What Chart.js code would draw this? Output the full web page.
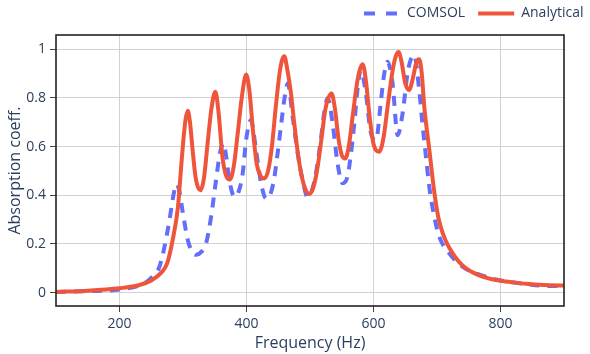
<!DOCTYPE html>
<html>
<head>
<meta charset="utf-8">
<script src="https://cdn.jsdelivr.net/npm/chart.js@4/dist/chart.umd.min.js"></script>
<style>
  html, body { margin: 0; padding: 0; background: #fff; }
  #wrap { width: 590px; height: 354px; }
</style>
</head>
<body>
<div id="wrap"><canvas id="absChart" width="590" height="354"></canvas></div>
<script>
// Series values
const comsolFreq = [100, 150, 200, 240, 255, 263, 271, 278.7, 285, 289.5, 294, 299.6, 307.5, 314, 320.7, 328, 336.4, 344.3, 352, 358, 363.6, 368, 373, 381, 387, 394, 399.4, 407, 415, 423, 430.7, 437, 443, 449, 455, 460, 465, 472.7, 480.6, 488.4, 496, 503, 510, 517, 523, 527.8, 535.6, 543.4, 551.4, 559, 564, 569.8, 575, 580, 588, 596, 604, 611.8, 617, 622, 630, 638, 645.8, 653.6, 659, 664, 672, 677, 682.6, 687.8, 695.7, 703.5, 719, 740, 771.7, 800, 840, 877, 900];
const comsolAbs = [0.002, 0.006, 0.013, 0.04, 0.075, 0.107, 0.19, 0.298, 0.4, 0.445, 0.42, 0.33, 0.216, 0.17, 0.155, 0.165, 0.203, 0.312, 0.462, 0.57, 0.613, 0.56, 0.462, 0.394, 0.41, 0.49, 0.627, 0.709, 0.585, 0.449, 0.387, 0.4, 0.46, 0.572, 0.7, 0.8, 0.859, 0.722, 0.572, 0.462, 0.394, 0.42, 0.5, 0.627, 0.75, 0.798, 0.695, 0.531, 0.449, 0.476, 0.56, 0.695, 0.84, 0.914, 0.818, 0.654, 0.627, 0.79, 0.9, 0.948, 0.859, 0.647, 0.736, 0.9, 0.96, 0.975, 0.832, 0.695, 0.558, 0.435, 0.312, 0.23, 0.162, 0.107, 0.07, 0.05, 0.035, 0.027, 0.027];

const analyticalFreq = [100, 150, 200, 230, 250, 265, 275, 284, 292, 296, 300, 304, 307.5, 311, 315, 320, 327.5, 333, 339, 345, 351, 356, 362, 368, 374, 380, 386, 393, 399.5, 405, 410, 416, 422, 428, 434, 440, 446, 452, 456, 459.6, 464, 470, 475, 481, 486, 492, 499, 505, 511, 518, 524, 529, 534, 539, 545, 550, 555.6, 561, 567, 574, 579, 583, 588, 594, 600, 609, 616, 623, 630, 635, 639.5, 644, 650, 656, 662, 667, 672, 676, 680, 688, 696, 702, 709, 716, 724.5, 735, 745.6, 757, 771.7, 785, 800, 820, 840, 860, 877, 900];
const analyticalAbs = [0.003, 0.008, 0.018, 0.03, 0.05, 0.08, 0.12, 0.22, 0.35, 0.48, 0.61, 0.71, 0.747, 0.7, 0.59, 0.47, 0.42, 0.47, 0.62, 0.76, 0.825, 0.74, 0.56, 0.48, 0.465, 0.52, 0.65, 0.81, 0.896, 0.82, 0.67, 0.53, 0.48, 0.469, 0.5, 0.6, 0.76, 0.9, 0.955, 0.971, 0.92, 0.82, 0.7, 0.57, 0.49, 0.43, 0.405, 0.43, 0.5, 0.63, 0.75, 0.8, 0.818, 0.76, 0.63, 0.565, 0.551, 0.6, 0.72, 0.86, 0.92, 0.938, 0.87, 0.72, 0.61, 0.579, 0.64, 0.78, 0.91, 0.97, 0.988, 0.95, 0.86, 0.832, 0.88, 0.94, 0.958, 0.9, 0.763, 0.585, 0.408, 0.31, 0.244, 0.2, 0.162, 0.125, 0.1, 0.082, 0.066, 0.056, 0.049, 0.042, 0.036, 0.032, 0.03, 0.029];

const xTicks = [200, 400, 600, 800];
const yTicks = [0, 0.2, 0.4, 0.6, 0.8, 1];
const yTickLabels = ['0', '0.2', '0.4', '0.6', '0.8', '1'];

const FONT = '"Open Sans", "Noto Sans", sans-serif';
const TEXT = '#2a3f5f';

function toPoints(xs, ys) {
    return xs.map((x, i) => ({ x: x, y: ys[i] }));
}

// Legend drawn at the top right, like the reference
const topLegend = {
    id: 'topLegend',
    afterDraw(chart) {
        const ctx = chart.ctx;
        ctx.save();
        ctx.font = '14px ' + FONT;
        ctx.textBaseline = 'middle';
        let x = 364;
        const y = 13.5;
        chart.data.datasets.forEach(ds => {
            const w = ds.borderDash.length ? 33 : 36;
            ctx.strokeStyle = ds.borderColor;
            ctx.lineWidth = 4;
            ctx.setLineDash(ds.borderDash.length ? [11, 11] : []);
            ctx.beginPath();
            ctx.moveTo(x, y);
            ctx.lineTo(x + w, y);
            ctx.stroke();
            ctx.setLineDash([]);
            x += w + 10 - (ds.borderDash.length ? 0 : 3);
            ctx.fillStyle = TEXT;
            ctx.fillText(ds.label, x, y);
            x += ctx.measureText(ds.label).width + 13;
        });
        ctx.restore();
    }
};

// Black frame round the plot area
const plotFrame = {
    id: 'plotFrame',
    afterDatasetsDraw(chart) {
        const a = chart.chartArea;
        const ctx = chart.ctx;
        ctx.save();
        ctx.strokeStyle = '#222';
        ctx.lineWidth = 1.6;
        ctx.strokeRect(a.left, a.top, a.right - a.left, a.bottom - a.top);
        ctx.restore();
    }
};

function initAbsChart() {
    const ctx = document.getElementById('absChart').getContext('2d');
    const absChart = new Chart(ctx, {
        type: 'line',
        data: {
            datasets: [{
                label: 'COMSOL',
                data: toPoints(comsolFreq, comsolAbs),
                borderColor: '#636EFA',
                borderWidth: 4,
                borderDash: [10, 8],
                pointRadius: 0,
                cubicInterpolationMode: 'monotone',
                order: 2
            }, {
                label: 'Analytical',
                data: toPoints(analyticalFreq, analyticalAbs),
                borderColor: '#EF553B',
                borderWidth: 4,
                borderDash: [],
                pointRadius: 0,
                cubicInterpolationMode: 'monotone',
                order: 1
            }]
        },
        options: {
            responsive: false,
            animation: false,
            layout: { padding: { top: 35, right: 26, left: 0, bottom: 0 } },
            plugins: {
                legend: { display: false },
                tooltip: { enabled: false }
            },
            scales: {
                x: {
                    type: 'linear',
                    min: 100,
                    max: 900,
                    afterBuildTicks: s => { s.ticks = xTicks.map(v => ({ value: v })); },
                    afterFit: s => { s.height = 48; },
                    grid: { color: '#d2d2d2', tickColor: '#444', tickLength: 6 },
                    border: { display: false },
                    ticks: { color: TEXT, font: { family: FONT, size: 14 }, padding: 4, maxRotation: 0 },
                    title: { display: true, text: 'Frequency (Hz)', color: TEXT, font: { family: FONT, size: 16 }, padding: { top: 0, bottom: 1 } }
                },
                y: {
                    min: -0.055,
                    max: 1.058,
                    afterBuildTicks: s => { s.ticks = yTicks.map(v => ({ value: v })); },
                    afterFit: s => { s.width = 56; },
                    grid: { color: '#d2d2d2', tickColor: '#444', tickLength: 6 },
                    border: { display: false },
                    ticks: {
                        color: TEXT,
                        font: { family: FONT, size: 14 },
                        padding: 4,
                        callback: (v, i) => yTickLabels[i]
                    },
                    title: { display: true, text: 'Absorption coeff.', color: TEXT, font: { family: FONT, size: 16 }, padding: { top: 6, bottom: 0 } }
                }
            }
        },
        plugins: [topLegend, plotFrame]
    });
}

window.onload = function() {
    initAbsChart();
};
</script>
</body>
</html>
